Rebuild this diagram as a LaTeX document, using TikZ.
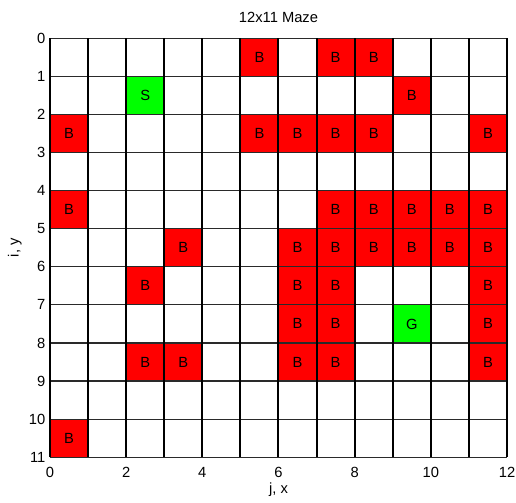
\documentclass[tikz,border=0pt]{standalone}
\usepackage{fontspec}
\setmainfont{Liberation Sans}
\usepackage{tikz}
\usetikzlibrary{positioning}
\definecolor{wallRed}{HTML}{FF0000}
\definecolor{endGreen}{HTML}{00FF00}
\definecolor{gridInk}{HTML}{2A2A2A}
\tikzset{
  cell/.style    = {minimum size=1cm, inner sep=0pt, outer sep=0pt,
                    font=\fontsize{11}{13}\selectfont},
  wall/.style    = {cell, fill=wallRed},
  endcell/.style = {cell, fill=endGreen},
  vline/.style   = {draw=black, line width=1.5pt},
  hline/.style   = {draw=gridInk, line width=0.9pt},
  ticklbl/.style = {font=\fontsize{11}{13}\selectfont, inner sep=1pt},
  axlbl/.style   = {font=\fontsize{11}{13}\selectfont, inner sep=0pt}
}

\begin{document}
\begin{tikzpicture}[x=1cm, y=-1cm]
  \useasboundingbox[fill=white] (-1.312,-1.005) rectangle (12.236,12.18);
  % blocked cells (row/column)
  \foreach \r/\c in {0/5, 0/7, 0/8, 1/9,
                     2/0, 2/5, 2/6, 2/7, 2/8, 2/11,
                     4/0, 4/7, 4/8, 4/9, 4/10, 4/11,
                     5/3, 5/6, 5/7, 5/8, 5/9, 5/10, 5/11,
                     6/2, 6/6, 6/7, 6/11,
                     7/6, 7/7, 7/11,
                     8/2, 8/3, 8/6, 8/7, 8/11,
                     10/0}
    \node[wall] (b-\r-\c) at (\c+0.5,\r+0.5) {B};
  \node[endcell] (start) at (2.5,1.5) {S};
  \node[endcell] (goal) at (9.5,7.5) {G};
  % grid
  \foreach \r in {0,...,11} \draw[hline] (0,\r) -- (12,\r);
  \foreach \c in {0,...,12} \draw[vline] (\c,0) -- (\c,11);
  % axes
  \foreach \r in {0,...,11}
    \node[ticklbl, anchor=east] (yt-\r) at (-0.08,\r) {\r};
  \foreach \c in {0,2,...,12}
    \node[ticklbl] (xt-\c) at (\c,11.39) {\c};
  \node[axlbl] (title) at (6,-0.56) {12x11 Maze};
  \node[axlbl] (xlab) at (6,11.86) {j, x};
  \node[axlbl, rotate=90] (ylab) at (-0.92,5.5) {i, y};
\end{tikzpicture}
\end{document}
